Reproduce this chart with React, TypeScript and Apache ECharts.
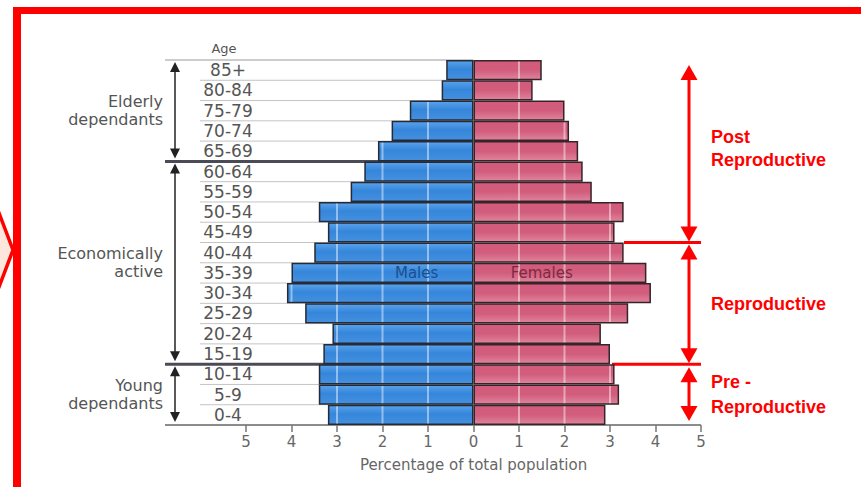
import React, { useEffect, useRef } from "react";
import * as echarts from "echarts";

const ages = ["85+", "80-84", "75-79", "70-74", "65-69", "60-64", "55-59", "50-54", "45-49", "40-44", "35-39", "30-34", "25-29", "20-24", "15-19", "10-14", "5-9", "0-4"];
const males = [0.6, 0.7, 1.4, 1.8, 2.1, 2.4, 2.7, 3.4, 3.2, 3.5, 4.0, 4.1, 3.7, 3.1, 3.3, 3.4, 3.4, 3.2];
const females = [1.5, 1.3, 2.0, 2.1, 2.3, 2.4, 2.6, 3.3, 3.1, 3.3, 3.8, 3.9, 3.4, 2.8, 3.0, 3.1, 3.2, 2.9];
const groupLabels = [["Elderly", "dependants"], ["Economically", "active"], ["Young", "dependants"]];
const stageLabels = [["Post", "Reproductive"], ["Reproductive"], ["Pre -", "Reproductive"]];

const GRID_TOP = 60;
const GRID_BOTTOM = 425;
const GRID_LEFT = 246;
const GRID_RIGHT = 701;
const FONT = '"DejaVu Sans", sans-serif';

function arrow(x: number, y1: number, y2: number, color: string, lw: number, hw: number, hh: number) {
  return [
    { type: "line", shape: { x1: x, y1: y1 + hh * 0.6, x2: x, y2: y2 - hh * 0.6 }, style: { stroke: color, lineWidth: lw } },
    { type: "polygon", shape: { points: [[x, y1], [x - hw / 2, y1 + hh], [x + hw / 2, y1 + hh]] }, style: { fill: color } },
    { type: "polygon", shape: { points: [[x, y2], [x - hw / 2, y2 - hh], [x + hw / 2, y2 - hh]] }, style: { fill: color } },
  ];
}

export default function App() {
  const ref = useRef<HTMLDivElement>(null);
  useEffect(() => {
    const chart = echarts.init(ref.current!, null, { renderer: "svg" });
    const rowH = (GRID_BOTTOM - GRID_TOP) / ages.length;
    const yB = (i: number) => GRID_TOP + i * rowH;

    const blue = new echarts.graphic.LinearGradient(0, 0, 0, 1, [
      { offset: 0, color: "#5aa2ec" },
      { offset: 0.45, color: "#3586da" },
      { offset: 1, color: "#4590e0" },
    ]);
    const pink = new echarts.graphic.LinearGradient(0, 0, 0, 1, [
      { offset: 0, color: "#d45a7b" },
      { offset: 0.5, color: "#d15d7d" },
      { offset: 1, color: "#e0849c" },
    ]);

    const graphics: any[] = [];
    // red frame
    graphics.push({ type: "rect", shape: { x: 13, y: 7, width: 848, height: 7 }, style: { fill: "#ff0000" } });
    graphics.push({ type: "rect", shape: { x: 13, y: 7, width: 8, height: 480 }, style: { fill: "#ff0000" } });
    graphics.push({ type: "polygon", shape: { points: [[-4, 205], [13, 250], [-4, 295]] }, style: { fill: "#fde6dc", stroke: "#ff0000", lineWidth: 3.5 } });
    // Age header
    graphics.push({ type: "text", x: 224, y: 48, style: { text: "Age", font: `13px ${FONT}`, fill: "#555", textAlign: "center", textVerticalAlign: "middle" } });
    // bottom axis line
    graphics.push({ type: "line", shape: { x1: 165, y1: GRID_BOTTOM, x2: GRID_RIGHT, y2: GRID_BOTTOM }, style: { stroke: "#666", lineWidth: 1.5 } });
    // left group arrows
    const groups = [[0, 5], [5, 15], [15, 18]];
    groups.forEach(([a, b], gi) => {
      graphics.push(...arrow(175, yB(a) + 2, yB(b) - 3, "#222", 1.5, 10, 10));
      const mid = (yB(a) + yB(b)) / 2;
      const lines = groupLabels[gi];
      lines.forEach((t, li) => {
        graphics.push({
          type: "text", x: 163, y: mid + (li - (lines.length - 1) / 2) * 18,
          style: { text: t, font: `16px ${FONT}`, fill: "#555", textAlign: "right", textVerticalAlign: "middle" },
        });
      });
    });
    // right stage arrows
    const stages = [[65, yB(9) - 1], [yB(9) + 2, yB(15) - 1], [yB(15) + 3, 421]];
    const stageTextY = [[137, 160], [304], [382, 407]];
    stages.forEach(([a, b], si) => {
      graphics.push(...arrow(689, a, b, "#ff0000", 3, 17, 15));
      stageLabels[si].forEach((t, li) => {
        graphics.push({
          type: "text", x: 711, y: stageTextY[si][li],
          style: { text: t, font: `bold 18px "Liberation Sans", Arial, sans-serif`, fill: "#ff0000", textAlign: "left", textVerticalAlign: "middle" },
        });
      });
    });
    graphics.push({ type: "line", shape: { x1: 624, y1: yB(9), x2: 701, y2: yB(9) }, style: { stroke: "#ff0000", lineWidth: 3 } });
    graphics.push({ type: "line", shape: { x1: 612, y1: yB(15), x2: 701, y2: yB(15) }, style: { stroke: "#ff0000", lineWidth: 3 } });

    const rowData = ages.map((_, i) => [0, i]);

    const option: any = {
      animation: false,
      backgroundColor: "#ffffff",
      grid: { left: GRID_LEFT, right: 861 - GRID_RIGHT, top: GRID_TOP, bottom: 487 - GRID_BOTTOM, containLabel: false },
      xAxis: {
        type: "value", min: -5, max: 5, interval: 1,
        axisLine: { show: false },
        axisTick: { show: true, length: 7, lineStyle: { color: "#777", width: 1.5 } },
        splitLine: { show: false },
        axisLabel: { formatter: (v: number) => String(Math.abs(v)), color: "#666", fontSize: 15, fontFamily: FONT, margin: 9 },
        name: "Percentage of total population",
        nameLocation: "middle",
        nameGap: 32,
        nameTextStyle: { color: "#666", fontSize: 15, fontFamily: FONT },
      },
      yAxis: {
        type: "category", data: ages, inverse: true,
        axisLine: { show: false }, axisTick: { show: false }, splitLine: { show: false },
        axisLabel: { interval: 0, align: "center", margin: 18, fontSize: 17, color: "#555", fontFamily: FONT },
      },
      series: [
        {
          type: "custom", name: "rows", silent: true, z: 1, data: rowData,
          encode: { x: 0, y: 1 },
          renderItem: (params: any, api: any) => {
            const i = params.dataIndex;
            const c = api.coord([0, i]);
            const h = api.size([0, 1])[1];
            const top = c[1] - h / 2;
            const thick = i === 5 || i === 15;
            const x0 = i === 0 || thick ? 165 : 200;
            return {
              type: "line",
              shape: { x1: x0, y1: top, x2: c[0], y2: top },
              style: { stroke: thick ? "#4b4b57" : i === 0 ? "#999" : "#c4c4c4", lineWidth: thick ? 3 : 1 },
            };
          },
        },
        {
          type: "bar", name: "Males", stack: "pop", barCategoryGap: "0%", z: 2,
          data: males.map((v) => -v),
          itemStyle: { color: blue, borderColor: "#252a35", borderWidth: 1.5 },
          markPoint: {
            symbol: "rect", symbolSize: 1, itemStyle: { color: "transparent" },
            label: { show: true, position: "inside", formatter: "Males", color: "#1c4f8e", fontSize: 15, fontFamily: FONT },
            data: [{ coord: [-1.25, "35-39"] }],
          },
        },
        {
          type: "bar", name: "Females", stack: "pop", barCategoryGap: "0%", z: 2,
          data: females,
          itemStyle: { color: pink, borderColor: "#35252b", borderWidth: 1.5 },
          markPoint: {
            symbol: "rect", symbolSize: 1, itemStyle: { color: "transparent" },
            label: { show: true, position: "inside", formatter: "Females", color: "#7d2a3f", fontSize: 15, fontFamily: FONT },
            data: [{ coord: [1.5, "35-39"] }],
          },
        },
        {
          type: "custom", name: "overlay", silent: true, z: 3, data: rowData,
          encode: { x: 0, y: 1 },
          renderItem: (params: any, api: any) => {
            const i = params.dataIndex;
            const c = api.coord([0, i]);
            const h = api.size([0, 1])[1];
            const children: any[] = [];
            for (let k = 1; k < 5; k++) {
              if (k < males[i] - 0.05) {
                const x = api.coord([-k, i])[0];
                children.push({ type: "line", shape: { x1: x, y1: c[1] - h / 2 + 1.5, x2: x, y2: c[1] + h / 2 - 1.5 }, style: { stroke: "rgba(255,255,255,0.45)", lineWidth: 2 } });
              }
              if (k < females[i] - 0.05) {
                const x = api.coord([k, i])[0];
                children.push({ type: "line", shape: { x1: x, y1: c[1] - h / 2 + 1.5, x2: x, y2: c[1] + h / 2 - 1.5 }, style: { stroke: "rgba(255,255,255,0.45)", lineWidth: 2 } });
              }
            }
            return { type: "group", children };
          },
        },
      ],
      graphic: graphics,
    };
    chart.setOption(option);
    return () => chart.dispose();
  }, []);
  return <div ref={ref} style={{ position: "fixed", left: 0, top: 0, width: 861, height: 487, background: "#fff" }} />;
}
